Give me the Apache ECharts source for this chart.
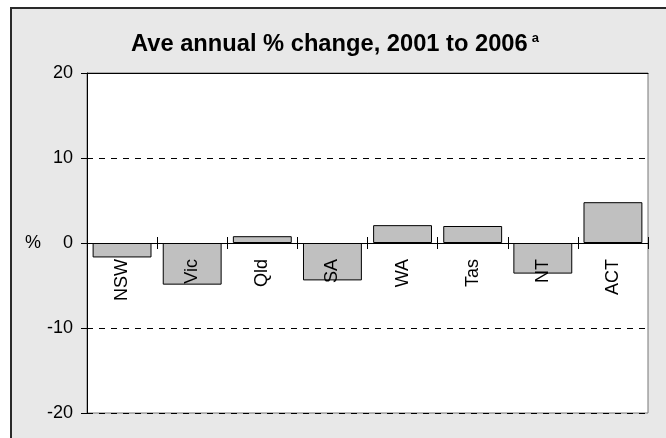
<!DOCTYPE html>
<html>
<head>
<meta charset="utf-8">
<script src="https://cdn.jsdelivr.net/npm/echarts@6/dist/echarts.min.js"></script>
<style>
  html, body { margin: 0; padding: 0; background: #fff; }
  .frame {
    position: absolute; left: 10px; top: 7px; width: 700px; height: 480px;
    background: #e8e8e8; border-left: 2px solid #2a2a2a; border-top: 2px solid #2a2a2a;
  }
  .chart-container { position: absolute; left: 0; top: 0; width: 666px; height: 438px; }
</style>
</head>
<body>
<div class="frame"></div>
<div id="chart" class="chart-container"></div>
<script>
const states = ['NSW', 'Vic', 'Qld', 'SA', 'WA', 'Tas', 'NT', 'ACT'];
const changes = [-1.7, -4.9, 0.8, -4.4, 2.1, 2.0, -3.6, 4.8];
const yTicks = [-20, -10, 0, 10, 20];

const font = 'Liberation Sans, Arial, sans-serif';
const chart = echarts.init(document.getElementById('chart'));

const option = {
  backgroundColor: 'transparent',
  animation: false,
  title: {
    text: '{t|Ave annual % change, 2001 to 2006}{s|a}',
    left: 131,
    top: 32,
    padding: 0,
    textStyle: {
      rich: {
        t: { fontFamily: font, fontSize: 23.7, fontWeight: 'bold', color: '#000', lineHeight: 24 },
        s: { fontFamily: font, fontSize: 13, fontWeight: 'bold', color: '#000', verticalAlign: 'top',
             lineHeight: 6, padding: [0, 0, 0, 4] }
      }
    }
  },
  grid: [
    { left: 87, top: 73, width: 561, height: 340, outerBoundsMode: 'none',
      show: true, backgroundColor: '#fff', borderColor: '#777', borderWidth: 1 },
    // upper half of the plot: its bottom edge is the zero line, carries the state labels
    { left: 87, top: 73, width: 561, height: 170, outerBoundsMode: 'none', show: false }
  ],
  xAxis: [
    {
      // zero line + upper half of the crossing ticks
      type: 'category',
      gridIndex: 0,
      data: states,
      position: 'top',
      z: 10,
      axisLine: { show: true, onZero: true, lineStyle: { color: '#000', width: 1 } },
      axisTick: { show: true, length: 6, lineStyle: { color: '#000' } },
      axisLabel: { show: false }
    },
    {
      // lower ticks + state labels
      type: 'category',
      gridIndex: 1,
      data: states,
      position: 'bottom',
      z: 10,
      axisLine: { show: true, onZero: false, lineStyle: { color: '#000', width: 1 } },
      axisTick: { show: true, length: 6, lineStyle: { color: '#000' } },
      axisLabel: {
        rotate: 90, margin: 16, color: '#000', fontFamily: font, fontSize: 18
      }
    },
    {
      // solid top edge of the plot area
      type: 'category',
      gridIndex: 1,
      data: states,
      position: 'top',
      z: 10,
      axisLine: { show: true, onZero: false, lineStyle: { color: '#000', width: 1 } },
      axisTick: { show: false },
      axisLabel: { show: false }
    }
  ],
  yAxis: [
    {
      type: 'value',
      gridIndex: 0,
      min: yTicks[0],
      max: yTicks[yTicks.length - 1],
      interval: 10,
      name: '%',
      nameLocation: 'middle',
      nameRotate: 0,
      nameGap: 45,
      nameTextStyle: { color: '#000', fontFamily: font, fontSize: 18 },
      axisLine: { show: true, lineStyle: { color: '#000' } },
      axisTick: { show: true, length: 6, lineStyle: { color: '#000' } },
      axisLabel: { margin: 14, color: '#000', fontFamily: font, fontSize: 18 },
      splitLine: { show: true, lineStyle: { color: '#000', type: [6, 6], width: 1 } }
    },
    {
      type: 'value',
      gridIndex: 1,
      min: 0,
      max: yTicks[yTicks.length - 1],
      show: false
    }
  ],
  series: [
    {
      type: 'bar',
      xAxisIndex: 0,
      yAxisIndex: 0,
      data: changes,
      barCategoryGap: '16%',
      itemStyle: { color: '#c0c0c0', borderColor: '#000', borderWidth: 1 }
    }
  ]
};

chart.setOption(option);
</script>
</body>
</html>
